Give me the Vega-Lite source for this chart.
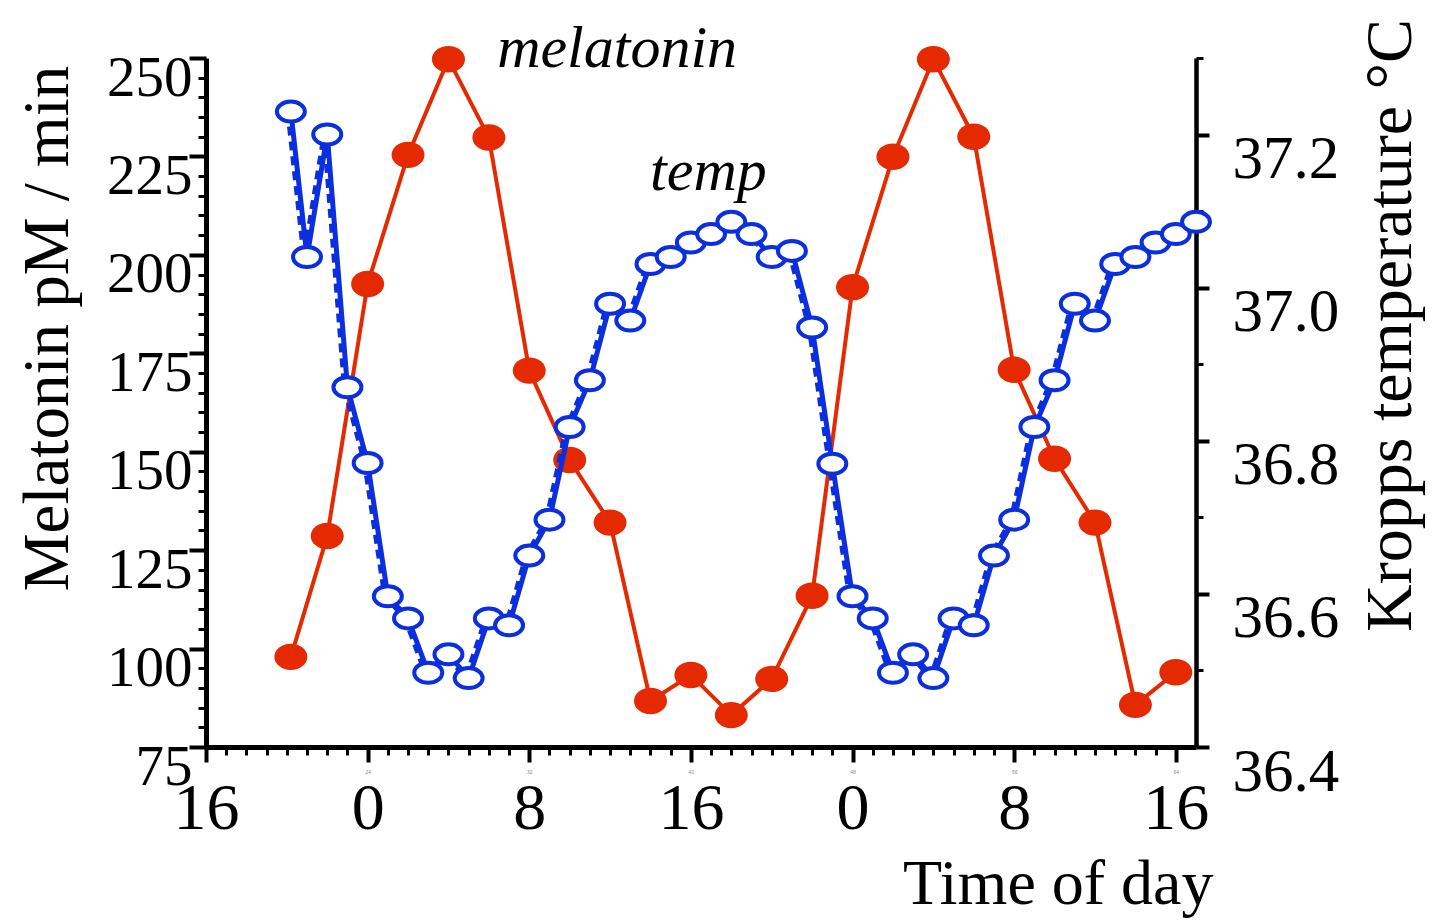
{
  "$schema": "https://vega.github.io/schema/vega-lite/v6.json",
  "width": 990,
  "height": 689,
  "autosize": {"type": "none"},
  "padding": {"left": 206, "top": 58, "right": 238, "bottom": 174},
  "background": "white",
  "config": {
    "view": {"stroke": null},
    "font": "Liberation Serif",
    "axis": {
      "labelFont": "Liberation Serif",
      "titleFont": "Liberation Serif",
      "labelColor": "black",
      "titleColor": "black",
      "domainColor": "black",
      "tickColor": "black",
      "grid": false,
      "labelFlush": false,
      "labelOverlap": false,
      "labelBound": false,
      "titleFontWeight": "normal"
    }
  },
  "datasets": {
    "mel": [
      {"hour": 20.2, "mel": 97.9}, {"hour": 22, "mel": 128.6}, {"hour": 24, "mel": 192.6},
      {"hour": 26, "mel": 225.4}, {"hour": 28, "mel": 249.7}, {"hour": 30, "mel": 229.8},
      {"hour": 32, "mel": 170.6}, {"hour": 34, "mel": 147.9}, {"hour": 36, "mel": 132},
      {"hour": 38, "mel": 86.7}, {"hour": 40, "mel": 93.3}, {"hour": 42, "mel": 83.1},
      {"hour": 44, "mel": 92.3}, {"hour": 46, "mel": 113.4}, {"hour": 48, "mel": 191.8},
      {"hour": 50, "mel": 224.9}, {"hour": 52, "mel": 249.7}, {"hour": 54, "mel": 230},
      {"hour": 56, "mel": 170.8}, {"hour": 58, "mel": 148.2}, {"hour": 60, "mel": 132},
      {"hour": 62, "mel": 85.7}, {"hour": 64, "mel": 94}
    ],
    "temp": [
      {"hour": 20.2, "temp": 37.23}, {"hour": 21, "temp": 37.04}, {"hour": 22, "temp": 37.2},
      {"hour": 23, "temp": 36.87}, {"hour": 24, "temp": 36.771}, {"hour": 25, "temp": 36.597},
      {"hour": 26, "temp": 36.568}, {"hour": 27, "temp": 36.497}, {"hour": 28, "temp": 36.521},
      {"hour": 29, "temp": 36.49}, {"hour": 30, "temp": 36.568}, {"hour": 31, "temp": 36.559},
      {"hour": 32, "temp": 36.65}, {"hour": 33, "temp": 36.697}, {"hour": 34, "temp": 36.818},
      {"hour": 35, "temp": 36.879}, {"hour": 36, "temp": 36.979}, {"hour": 37, "temp": 36.957},
      {"hour": 38, "temp": 37.031}, {"hour": 39, "temp": 37.04}, {"hour": 40, "temp": 37.059},
      {"hour": 41, "temp": 37.07}, {"hour": 42, "temp": 37.086}, {"hour": 43, "temp": 37.07},
      {"hour": 44, "temp": 37.04}, {"hour": 45, "temp": 37.048}, {"hour": 46, "temp": 36.948},
      {"hour": 47, "temp": 36.77}, {"hour": 48, "temp": 36.597}, {"hour": 49, "temp": 36.568},
      {"hour": 50, "temp": 36.497}, {"hour": 51, "temp": 36.521}, {"hour": 52, "temp": 36.49},
      {"hour": 53, "temp": 36.568}, {"hour": 54, "temp": 36.559}, {"hour": 55, "temp": 36.65},
      {"hour": 56, "temp": 36.697}, {"hour": 57, "temp": 36.818}, {"hour": 58, "temp": 36.879},
      {"hour": 59, "temp": 36.979}, {"hour": 60, "temp": 36.957}, {"hour": 61, "temp": 37.031},
      {"hour": 62, "temp": 37.04}, {"hour": 63, "temp": 37.059}, {"hour": 64, "temp": 37.07},
      {"hour": 65, "temp": 37.086}
    ],
    "labels": [
      {"hour": 30.41, "mel": 247.7, "label": "melatonin"},
      {"hour": 37.98, "mel": 216.5, "label": "temp"}
    ]
  },
  "resolve": {
    "scale": {"x": "independent", "y": "independent"},
    "axis": {"x": "independent", "y": "independent"}
  },
  "layer": [
    {
      "data": {"name": "mel"},
      "mark": {"type": "line", "color": "#e52900", "strokeWidth": 4},
      "encoding": {
        "x": {
          "field": "hour", "type": "quantitative",
          "scale": {"domain": [16, 65], "nice": false, "zero": false},
          "axis": {
            "orient": "bottom",
            "values": [16, 24, 32, 40, 48, 56, 64],
            "labelExpr": "'' + (datum.value % 24)",
            "labelFontSize": 66,
            "labelBaseline": "alphabetic",
            "labelPadding": 66,
            "tickSize": 15,
            "tickWidth": 4,
            "domainWidth": 5,
            "title": "Time of day",
            "titleFontSize": 64,
            "titleX": 1007,
            "titleY": 156,
            "titleAlign": "right",
            "titleBaseline": "alphabetic"
          }
        },
        "y": {
          "field": "mel", "type": "quantitative",
          "scale": {"domain": [75, 250], "nice": false, "zero": false},
          "axis": {
            "orient": "left",
            "values": [75, 100, 125, 150, 175, 200, 225, 250],
            "labelFontSize": 57,
            "labelBaseline": "alphabetic",
            "labelOffset": 37,
            "labelPadding": -3,
            "tickSize": 17,
            "tickWidth": 4,
            "domainWidth": 5,
            "title": "Melatonin pM / min",
            "titleFontSize": 65,
            "titleAngle": 270,
            "titleX": -139,
            "titleY": 270,
            "titleAlign": "center",
            "titleBaseline": "alphabetic"
          }
        }
      }
    },
    {
      "data": {"name": "mel"},
      "mark": {"type": "point", "shape": "M-1,0A1,0.8 0 1,1 1,0A1,0.8 0 1,1 -1,0Z", "size": 1089, "filled": true, "color": "#e52900", "opacity": 1},
      "encoding": {
        "x": {
          "field": "hour", "type": "quantitative",
          "scale": {"domain": [16, 65], "nice": false, "zero": false},
          "axis": {
            "orient": "bottom",
            "values": [17, 18, 19, 20, 21, 22, 23, 25, 26, 27, 28, 29, 30, 31, 33, 34, 35, 36, 37, 38, 39, 41, 42, 43, 44, 45, 46, 47, 49, 50, 51, 52, 53, 54, 55, 57, 58, 59, 60, 61, 62, 63],
            "labels": false, "domain": false, "tickSize": 8, "tickWidth": 3, "title": null
          }
        },
        "y": {
          "field": "mel", "type": "quantitative",
          "scale": {"domain": [75, 250], "nice": false, "zero": false},
          "axis": {
            "orient": "left",
            "values": [80, 85, 90, 95, 105, 110, 115, 120, 130, 135, 140, 145, 155, 160, 165, 170, 180, 185, 190, 195, 205, 210, 215, 220, 230, 235, 240, 245],
            "labels": false, "domain": false, "tickSize": 8, "tickWidth": 3, "title": null
          }
        }
      }
    },
    {
      "data": {"name": "labels"},
      "mark": {"type": "text", "font": "Liberation Serif", "fontStyle": "italic", "fontSize": 60, "align": "left", "baseline": "alphabetic", "color": "black"},
      "encoding": {
        "x": {
          "field": "hour", "type": "quantitative",
          "scale": {"domain": [16, 65], "nice": false, "zero": false},
          "axis": {
            "orient": "bottom",
            "values": [24, 32, 40, 48, 56, 64],
            "ticks": false, "domain": false,
            "labelFont": "Liberation Sans", "labelFontSize": 5, "labelColor": "#888888",
            "labelPadding": 26, "labelBaseline": "alphabetic", "title": null
          }
        },
        "y": {
          "field": "mel", "type": "quantitative",
          "scale": {"domain": [75, 250], "nice": false, "zero": false},
          "axis": null
        },
        "text": {"field": "label"}
      }
    },
    {
      "data": {"name": "temp"},
      "mark": {"type": "line", "color": "#0b2ede", "strokeWidth": 4, "strokeDash": [9, 6], "xOffset": -3.5},
      "encoding": {
        "x": {
          "field": "hour", "type": "quantitative",
          "scale": {"domain": [16, 65], "nice": false, "zero": false},
          "axis": null
        },
        "y": {
          "field": "temp", "type": "quantitative",
          "scale": {"domain": [36.4, 37.3], "nice": false, "zero": false},
          "axis": {
            "orient": "right",
            "values": [36.5, 36.7, 36.9, 37.1, 37.3],
            "labels": false, "domain": false, "tickSize": 7, "tickWidth": 3, "title": null
          }
        }
      }
    },
    {
      "data": {"name": "temp"},
      "mark": {"type": "line", "color": "#0b2ede", "strokeWidth": 5},
      "encoding": {
        "x": {
          "field": "hour", "type": "quantitative",
          "scale": {"domain": [16, 65], "nice": false, "zero": false},
          "axis": null
        },
        "y": {
          "field": "temp", "type": "quantitative",
          "scale": {"domain": [36.4, 37.3], "nice": false, "zero": false},
          "axis": {
            "orient": "right",
            "values": [36.4, 36.6, 36.8, 37.0, 37.2],
            "format": ".1f",
            "labelFontSize": 61,
            "labelBaseline": "alphabetic",
            "labelAlign": "left",
            "labelOffset": 43,
            "labelPadding": 23,
            "tickSize": 13,
            "tickWidth": 4,
            "domainWidth": 4.5,
            "title": "Kropps temperature °C",
            "titleFontSize": 66,
            "titleAngle": 270,
            "titleX": 214,
            "titleY": 267,
            "titleAlign": "center",
            "titleBaseline": "alphabetic"
          }
        }
      }
    },
    {
      "data": {"name": "temp"},
      "mark": {"type": "point", "shape": "M-1,0A1,0.714 0 1,1 1,0A1,0.714 0 1,1 -1,0Z", "size": 784, "fill": "white", "stroke": "#0b2ede", "strokeWidth": 4, "opacity": 1},
      "encoding": {
        "x": {
          "field": "hour", "type": "quantitative",
          "scale": {"domain": [16, 65], "nice": false, "zero": false},
          "axis": null
        },
        "y": {
          "field": "temp", "type": "quantitative",
          "scale": {"domain": [36.4, 37.3], "nice": false, "zero": false},
          "axis": null
        }
      }
    }
  ]
}
